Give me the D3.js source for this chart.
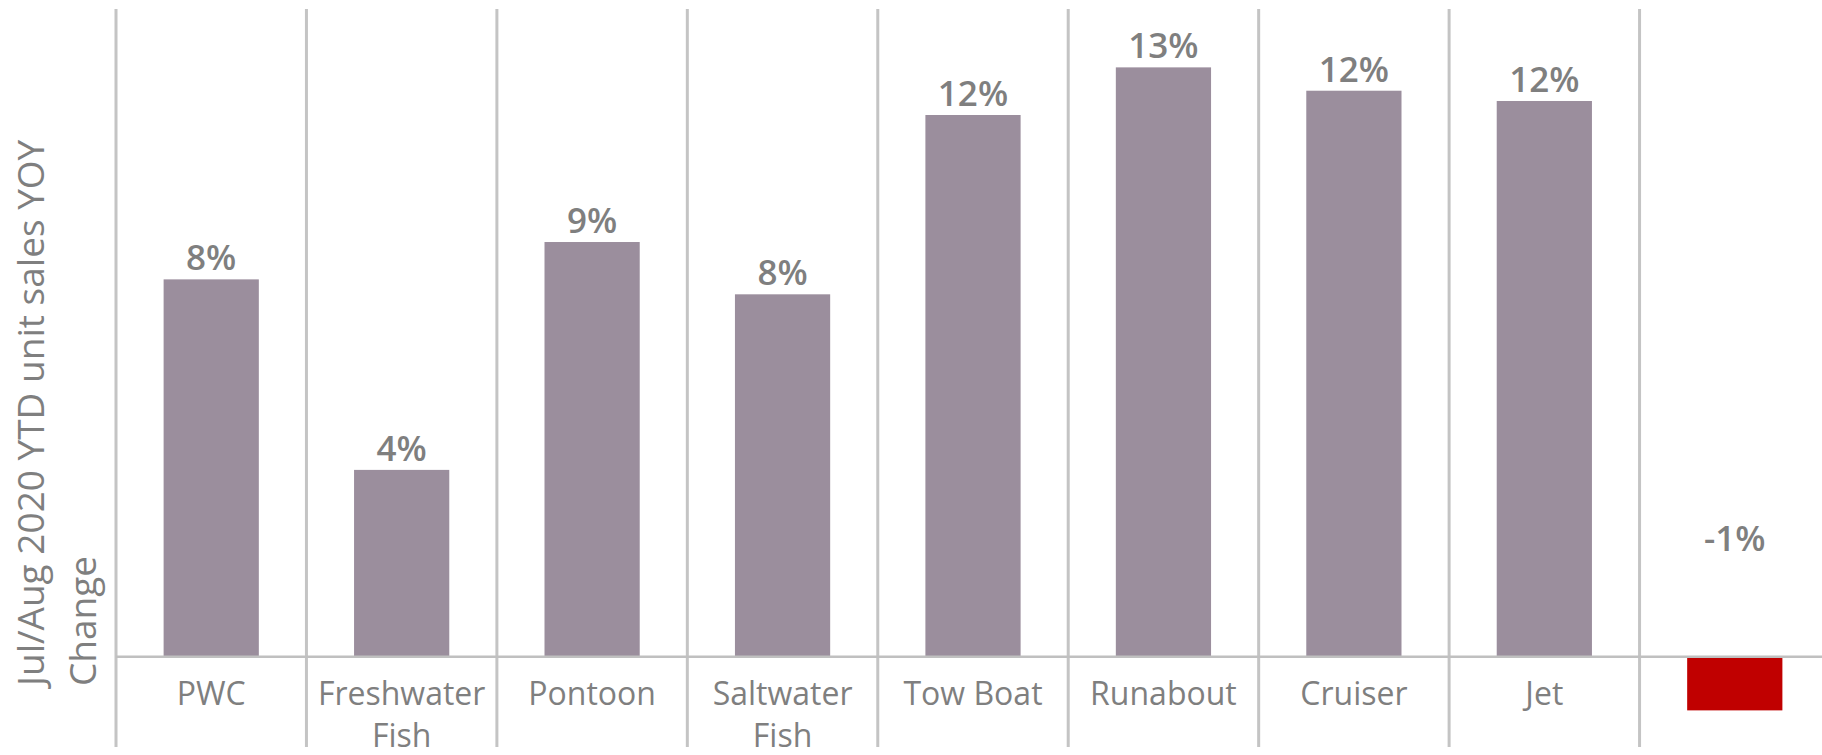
<!DOCTYPE html>
<html>
<head>
<meta charset="utf-8">
<script src="https://d3js.org/d3.v7.min.js"></script>
<style>
    body { margin: 0; background: #fff; }
    text { font-family: "Open Sans", sans-serif; fill: #7f7f7f; }
    .grid { stroke: #c4c4c4; stroke-width: 3px; }
    .zero { stroke: #c0c0c0; stroke-width: 2.5px; }
</style>
</head>
<body>
<svg width="1822" height="755"></svg>
<script>
// categories (the last one has no label in the source chart)
var categories = ["PWC", "Freshwater Fish", "Pontoon", "Saltwater Fish", "Tow Boat", "Runabout", "Cruiser", "Jet", ""];
// YOY change in %
var values = [8.08, 4.0, 8.88, 7.76, 11.6, 12.62, 12.12, 11.9, -1.15];
var titleLines = ["Jul/Aug 2020 YTD unit sales YOY", "Change"];

var svg = d3.select("svg");

var x = d3.scaleBand()
    .domain(d3.range(categories.length))
    .range([116, 1830])
    .padding(0);

var y = d3.scaleLinear()
    .domain([-1.87, 13.87])
    .range([744, 9]);

var bw = x.bandwidth();

// vertical separators between categories
svg.selectAll(".grid")
    .data(categories)
    .enter().append("line")
    .attr("class", "grid")
    .attr("x1", function (d, i) { return x(i); })
    .attr("x2", function (d, i) { return x(i); })
    .attr("y1", y.range()[1])
    .attr("y2", y.range()[0] + 3);

// bars
svg.selectAll(".bar")
    .data(values)
    .enter().append("rect")
    .attr("class", "bar")
    .attr("x", function (d, i) { return x(i) + bw * 0.25; })
    .attr("width", bw * 0.5)
    .attr("y", function (d) { return y(Math.max(0, d)); })
    .attr("height", function (d) { return Math.abs(y(d) - y(0)); })
    .attr("fill", function (d) { return d < 0 ? "#c00000" : "#9b8e9d"; });

// zero line
svg.append("line")
    .attr("class", "zero")
    .attr("x1", x.range()[0])
    .attr("x2", 1822)
    .attr("y1", y(0))
    .attr("y2", y(0));

// value labels
svg.selectAll(".val")
    .data(values)
    .enter().append("text")
    .attr("class", "val")
    .attr("x", function (d, i) { return x(i) + bw / 2; })
    .attr("y", function (d) { return d >= 0 ? y(d) - 9 : y(0) - 106; })
    .attr("text-anchor", "middle")
    .style("font-size", "35px")
    .style("font-weight", 600)
    .text(function (d) { return Math.round(d) + "%"; });

// category labels, wrapped inside the band
var cat = svg.selectAll(".cat")
    .data(categories)
    .enter().append("text")
    .attr("class", "cat")
    .attr("text-anchor", "middle")
    .attr("x", function (d, i) { return x(i) + bw / 2; })
    .attr("y", y(0) + 48)
    .style("font-size", "32px");

cat.each(function (d) {
    var t = d3.select(this),
        words = d.split(" "),
        line = [],
        tspan = t.append("tspan").attr("x", t.attr("x"));
    words.forEach(function (w) {
        line.push(w);
        tspan.text(line.join(" "));
        if (tspan.node().getComputedTextLength() > bw - 12 && line.length > 1) {
            line.pop();
            tspan.text(line.join(" "));
            line = [w];
            tspan = t.append("tspan")
                .attr("x", t.attr("x"))
                .attr("dy", 42)
                .text(w);
        }
    });
});

// y axis title
var title = svg.append("text")
    .attr("transform", "translate(0,686) rotate(-90)")
    .attr("text-anchor", "start")
    .style("font-size", "37px");

title.selectAll("tspan")
    .data(titleLines)
    .enter().append("tspan")
    .attr("x", 0)
    .attr("y", function (d, i) { return 44 + i * 52; })
    .text(function (d) { return d; });
</script>
</body>
</html>
